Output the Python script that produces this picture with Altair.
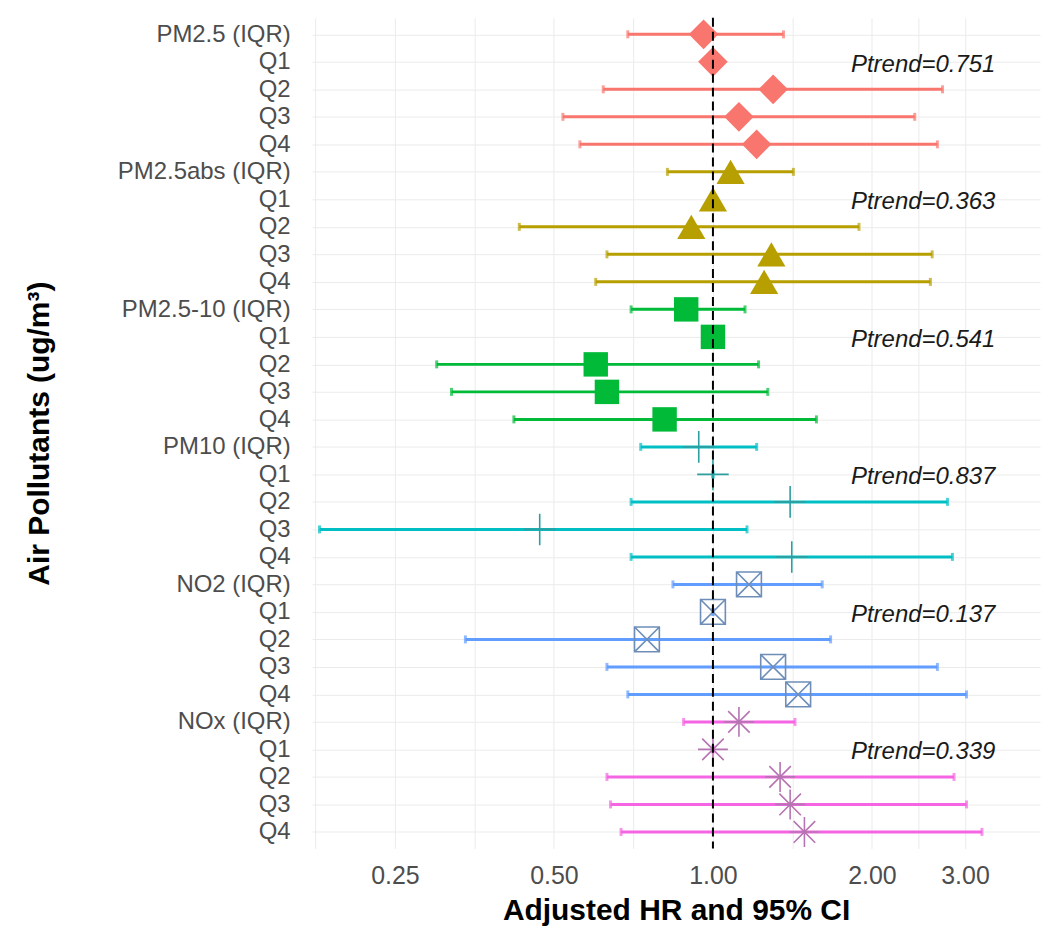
import json
import altair as alt
import pandas as pd

# ---------------- data ----------------
groups = ["PM2.5", "PM2.5abs", "PM2.5-10", "PM10", "NO2", "NOx"]
row_labels = [
    "PM2.5 (IQR)", "Q1", "Q2", "Q3", "Q4",
    "PM2.5abs (IQR)", "Q1", "Q2", "Q3", "Q4",
    "PM2.5-10 (IQR)", "Q1", "Q2", "Q3", "Q4",
    "PM10 (IQR)", "Q1", "Q2", "Q3", "Q4",
    "NO2 (IQR)", "Q1", "Q2", "Q3", "Q4",
    "NOx (IQR)", "Q1", "Q2", "Q3", "Q4",
]
hr = [0.96, 1.00, 1.30, 1.12, 1.21,
      1.08, 1.00, 0.91, 1.29, 1.25,
      0.89, 1.00, 0.60, 0.63, 0.81,
      0.94, 1.00, 1.40, 0.47, 1.41,
      1.17, 1.00, 0.75, 1.30, 1.45,
      1.12, 1.00, 1.34, 1.40, 1.49]
lo = [0.69, 1.00, 0.62, 0.52, 0.56,
      0.82, 1.00, 0.43, 0.63, 0.60,
      0.70, 1.00, 0.30, 0.32, 0.42,
      0.73, 1.00, 0.70, 0.18, 0.70,
      0.84, 1.00, 0.34, 0.63, 0.69,
      0.88, 1.00, 0.63, 0.64, 0.67]
hi = [1.36, 1.00, 2.72, 2.41, 2.66,
      1.42, 1.00, 1.89, 2.60, 2.58,
      1.15, 1.00, 1.22, 1.27, 1.57,
      1.21, 1.00, 2.78, 1.16, 2.84,
      1.61, 1.00, 1.67, 2.66, 3.02,
      1.43, 1.00, 2.86, 3.02, 3.23]
ptrend_rows = [1, 6, 11, 16, 21, 26]
ptrend_text = ["Ptrend=0.751", "Ptrend=0.363", "Ptrend=0.541",
               "Ptrend=0.837", "Ptrend=0.137", "Ptrend=0.339"]
ptrend_x = 2.5
ref_value = [1.0]
major_ticks = [0.25, 0.5, 1, 2, 3]
minor_ticks = [0.1768, 0.3536, 0.7071, 1.4142, 2.4495]

# ---------------- styles ----------------
palette = ["#F8766D", "#B79F00", "#00BA38", "#00BFC4", "#619CFF", "#F564E3"]
# (shape, size, filled, strokeWidth, marker colour)
markers = [
    ("diamond", 880, True, 0, "#F8766D"),
    ("triangle-up", 800, True, 0, "#B79F00"),
    ("square", 600, True, 0, "#00BA38"),
    ("M-1,0H1M0,-1V1", 1000, False, 1.6, "#2E9EA0"),
    ("M-1,-1H1V1H-1ZM-1,-1L1,1M-1,1L1,-1", 620, False, 1.6, "#6E8EB8"),
    ("M-1,0H1M0,-1V1M-0.72,-0.72L0.72,0.72M-0.72,0.72L0.72,-0.72", 900, False, 1.6, "#B774B2"),
]

df = pd.DataFrame({
    "row": list(range(len(row_labels))),
    "label": row_labels,
    "group": [groups[i // 5] for i in range(len(row_labels))],
    "hr": hr, "lo": lo, "hi": hi,
})
pt_df = pd.DataFrame({"row": ptrend_rows, "text": ptrend_text,
                      "x": [ptrend_x] * len(ptrend_rows)})
ref_df = pd.DataFrame({"x": ref_value})

FONT = "Liberation Sans"
W, H = 730, 833

grid_vals = sorted(major_ticks + minor_ticks)
x_scale = alt.Scale(type="log", domain=[0.1743, 4.16], nice=False)
y_scale = alt.Scale(domain=[-0.6, len(row_labels) - 0.4], reverse=True,
                    nice=False, zero=False)

x_axis = alt.Axis(
    values=grid_vals,
    labelExpr="indexof(" + json.dumps(major_ticks) + ", datum.value) >= 0 ? format(datum.value, '.2f') : ''",
    grid=True, gridColor="#EBEBEB", gridWidth=1,
    ticks=False, domain=False,
    labelFontSize=25, labelColor="#4D4D4D", labelFont=FONT,
    labelPadding=15, labelFlush=False, labelOverlap=False,
    title="Adjusted HR and 95% CI", titleFontSize=30, titleFont=FONT,
    titleFontWeight="bold", titleColor="#000000",
    titleY=62, titleBaseline="middle",
)
y_axis = alt.Axis(
    values=list(range(len(row_labels))),
    labelExpr=json.dumps(row_labels) + "[datum.value]",
    grid=True, gridColor="#EBEBEB", gridWidth=1,
    ticks=False, domain=False,
    labelFontSize=24, labelColor="#4D4D4D", labelFont=FONT,
    labelPadding=22, labelLimit=400, labelOverlap=False, labelBound=False,
    title="Air Pollutants (ug/m³)", titleFontSize=30, titleFont=FONT,
    titleFontWeight="bold", titleColor="#000000",
    titleX=-273, titleBaseline="middle", titleAngle=-90,
)

color = alt.Color("group:N", scale=alt.Scale(domain=groups, range=palette), legend=None)
base = alt.Chart(df)
xs = lambda f: alt.X(f, scale=x_scale, axis=x_axis)
ys = alt.Y("row:Q", scale=y_scale, axis=y_axis)

bars = base.mark_rule(strokeWidth=3).encode(
    x=xs("lo:Q"), x2="hi:Q", y=ys, color=color,
)
cap_lo = base.mark_tick(orient="vertical", size=8, thickness=3).encode(
    x=xs("lo:Q"), y=ys, color=color)
cap_hi = base.mark_tick(orient="vertical", size=8, thickness=3).encode(
    x=xs("hi:Q"), y=ys, color=color)

layers = [bars, cap_lo, cap_hi]
for g, (shape, size, filled, sw, col) in zip(groups, markers):
    kw = dict(shape=shape, size=size, filled=filled, opacity=1)
    if filled:
        kw.update(fill=col, strokeWidth=0)
    else:
        kw.update(stroke=col, strokeWidth=sw, fillOpacity=0)
    layers.append(
        base.transform_filter(alt.datum.group == g).mark_point(**kw).encode(
            x=xs("hr:Q"), y=ys)
    )

ptext = alt.Chart(pt_df).mark_text(
    font=FONT, fontSize=24, fontStyle="italic", color="#1A1A1A",
    align="center", baseline="middle", dy=3,
).encode(x=xs("x:Q"), y=ys, text="text:N")

vline = alt.Chart(ref_df).mark_rule(color="#000000", strokeWidth=2, strokeDash=[9, 5]).encode(
    x=xs("x:Q"), y=alt.value(0), y2=alt.value(H))

layers += [ptext, vline]

chart = alt.layer(*layers).properties(
    width=W, height=H,
    autosize=alt.AutoSizeParams(type="none"),
    padding={"left": 305, "top": 8.5, "right": 2, "bottom": 100},
    background="white",
).configure_view(stroke=None).configure_axis(labelOverlap=False)

chart.save("out.html", embed_options={"renderer": "svg", "actions": False})
